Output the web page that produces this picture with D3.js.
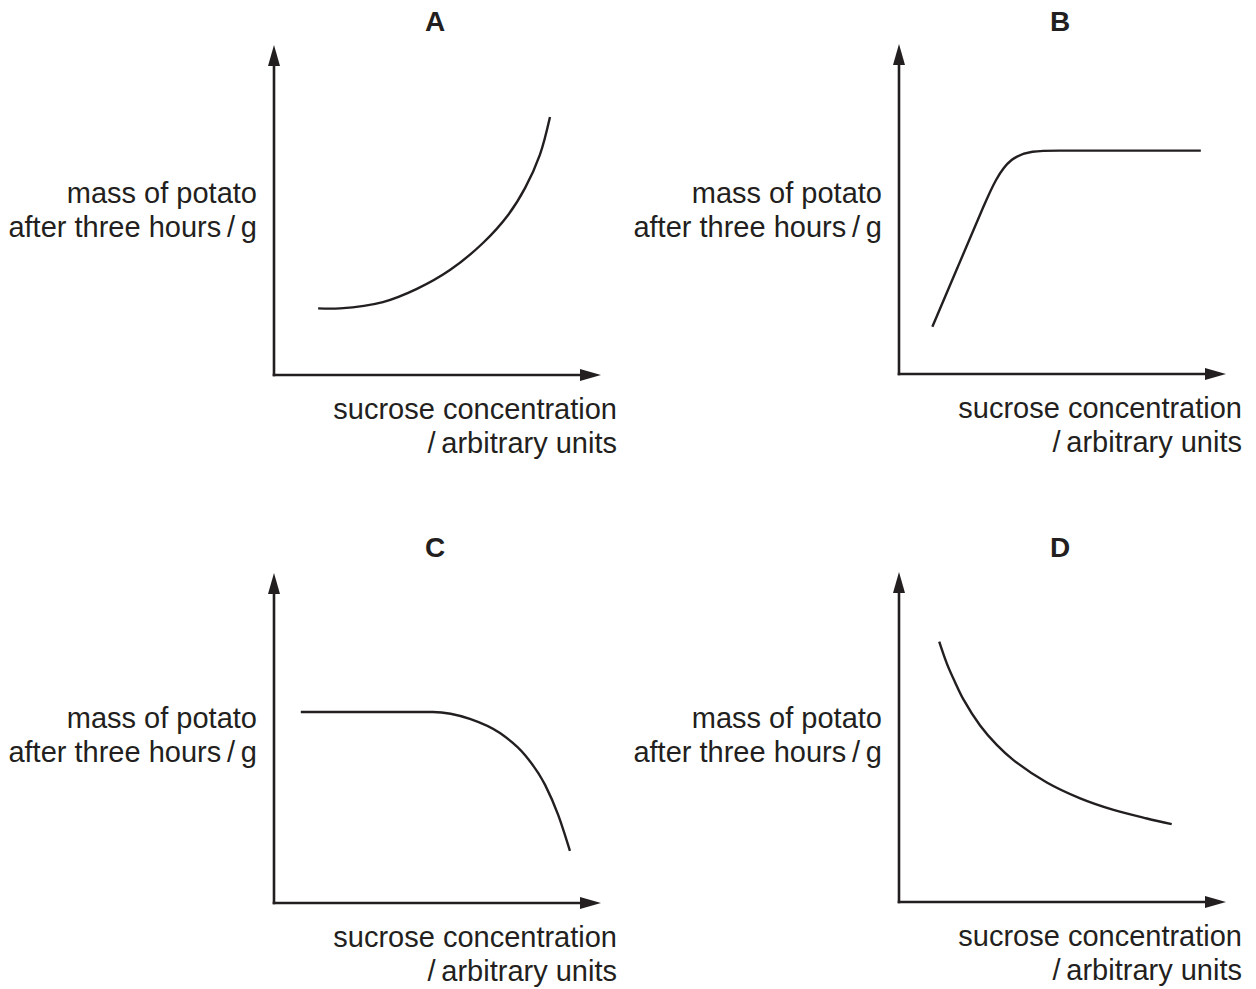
<!DOCTYPE html>
<html><head><meta charset="utf-8">
<script src="https://cdn.jsdelivr.net/npm/d3@7"></script>
<style>body{margin:0;background:#fff} svg{display:block}</style>
</head><body>
<script>
// ---- data (arbitrary units) ----
const panelNames = ["A", "B", "C", "D"];
const curveAx = [1.35, 2.02, 3.33, 4.37, 5.38, 6.39, 7.16, 7.68, 8.13, 8.44];
const curveAy = [2.02, 2.02, 2.21, 2.61, 3.18, 4.00, 4.85, 5.67, 6.67, 7.82];
const curveBx = [1.02, 1.80, 2.57, 3.33, 4.77, 7.06, 9.23];
const curveBy = [1.43, 3.25, 5.05, 6.77, 6.77, 6.77, 6.77];
const curveCx = [0.82, 3.24, 4.86, 5.99, 6.91, 7.68, 8.29, 8.69, 9.05];
const curveCy = [5.79, 5.79, 5.79, 5.58, 5.15, 4.48, 3.58, 2.67, 1.58];
const curveDx = [1.23, 1.47, 1.71, 1.97, 2.48, 2.99, 3.50, 4.52, 5.54, 6.56, 7.58, 8.34];
const curveDy = [7.89, 7.21, 6.67, 6.14, 5.35, 4.76, 4.30, 3.62, 3.14, 2.79, 2.53, 2.36];
const yLabelLines = ["mass of potato", "after three hours\u2009/\u2009g"];
const xLabelLines = ["sucrose concentration", "/\u2009arbitrary units"];
const domainX = [0, 10];
const domainY = [0, 10];

// ---- layout ----
const W = 1256, H = 989;
const ink = "#231f20";
const fontFamily = "'Liberation Sans', Arial, Helvetica, sans-serif";
const layout = [
  {ox: 274, oy: 375, titleY: 31, yl: [203, 237], curve: d3.curveCatmullRom},
  {ox: 899, oy: 374, titleY: 31, yl: [203, 237], curve: d3.curveBasis},
  {ox: 274, oy: 903, titleY: 557, yl: [728, 762], curve: d3.curveMonotoneX},
  {ox: 899, oy: 902, titleY: 557, yl: [728, 762], curve: d3.curveCatmullRom}
];
const curveXs = [curveAx, curveBx, curveCx, curveDx];
const curveYs = [curveAy, curveBy, curveCy, curveDy];
const plotW = 327, plotH = 330;
const arrowLen = 21, arrowHalf = 6;

const svg = d3.select("body").append("svg")
  .attr("width", W).attr("height", H)
  .attr("font-family", fontFamily);

panelNames.forEach((name, i) => {
  const L = layout[i];
  const g = svg.append("g").attr("transform", `translate(${L.ox},${L.oy})`);
  const x = d3.scaleLinear().domain(domainX).range([0, plotW]);
  const y = d3.scaleLinear().domain(domainY).range([0, -plotH]);

  // axes (no ticks) drawn through d3 axes
  const gx = g.append("g").call(d3.axisBottom(x).tickValues([]).tickSizeOuter(0));
  const gy = g.append("g").call(d3.axisLeft(y).tickValues([]).tickSizeOuter(0));
  [gx, gy].forEach(a => a.select(".domain")
    .attr("stroke", ink).attr("stroke-width", 2.6).attr("stroke-linecap", "square"));
  gx.select(".domain").attr("d", `M0,0H${x.range()[1] - arrowLen + 2}`);
  gy.select(".domain").attr("d", `M0,0V${y.range()[1] + arrowLen - 2}`);

  // arrowheads
  const xe = x.range()[1], ye = y.range()[1];
  g.append("path").attr("fill", ink)
    .attr("d", `M${xe},0L${xe - arrowLen},${-arrowHalf}L${xe - arrowLen},${arrowHalf}Z`);
  g.append("path").attr("fill", ink)
    .attr("d", `M0,${ye}L${-arrowHalf},${ye + arrowLen}L${arrowHalf},${ye + arrowLen}Z`);

  // curve
  const pts = curveXs[i].map((v, k) => [v, curveYs[i][k]]);
  g.append("path").datum(pts)
    .attr("fill", "none").attr("stroke", ink).attr("stroke-width", 2.4)
    .attr("d", d3.line().x(d => x(d[0])).y(d => y(d[1])).curve(L.curve));

  // title
  svg.append("text").attr("x", L.ox + 161).attr("y", L.titleY)
    .attr("text-anchor", "middle").attr("font-weight", "bold")
    .attr("font-size", 28).attr("fill", ink).text(name);

  // y label
  yLabelLines.forEach((t, k) => {
    svg.append("text").attr("x", L.ox - 17).attr("y", L.yl[k])
      .attr("text-anchor", "end").attr("font-size", 29).attr("fill", ink).text(t);
  });
  // x label
  xLabelLines.forEach((t, k) => {
    svg.append("text").attr("x", L.ox + 343).attr("y", L.oy + 44 + 34 * k)
      .attr("text-anchor", "end").attr("font-size", 29).attr("fill", ink).text(t);
  });
});
</script>
</body></html>
